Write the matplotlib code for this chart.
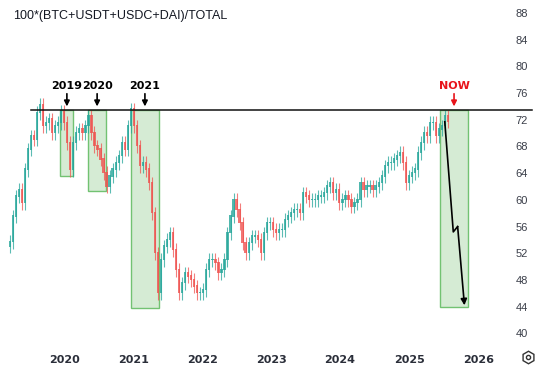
import matplotlib
matplotlib.use("Agg")
import matplotlib.pyplot as plt
import matplotlib.dates as mdates
from matplotlib.patches import Rectangle
from matplotlib.lines import Line2D
import numpy as np
import pandas as pd

plt.rcParams['font.family'] = ['Liberation Sans', 'DejaVu Sans']

title = "100*(BTC+USDT+USDC+DAI)/TOTAL"
start_date = "2019-03-20"
period = "16D"
closes = [
    53.7, 57.5, 60.5, 61.5, 59.5, 64.5, 67.5, 69.5, 69.0, 73.0,
    74.2, 71.0, 71.5, 72.0, 70.0, 71.0, 71.5, 73.2, 71.5, 68.5,
    64.5, 68.5, 70.0, 70.5, 70.0, 71.0, 72.5, 70.0, 68.0, 67.5,
    66.0, 64.0, 62.0, 63.5, 64.5, 65.5, 66.5, 68.5, 67.5, 71.0,
    73.5, 71.0, 68.0, 65.0, 65.5, 64.5, 62.5, 58.0, 52.0, 46.0,
    51.0, 53.0, 54.0, 55.0, 52.5, 49.5, 46.0, 47.5, 49.0, 48.5,
    48.0, 47.0, 46.0, 46.0, 46.5, 49.5, 51.0, 51.0, 50.5, 49.0,
    49.5, 51.0, 55.0, 57.5, 60.0, 58.5, 56.5, 53.5, 52.0, 53.5,
    54.5, 54.5, 54.0, 52.0, 55.0, 56.5, 56.5, 55.5, 55.0, 55.5,
    55.5, 57.0, 57.5, 58.0, 58.5, 58.5, 58.0, 61.0, 60.5, 60.0,
    60.0, 60.0, 60.5, 60.5, 61.0, 62.0, 62.5, 61.0, 61.5, 59.5,
    60.0, 60.5, 60.0, 59.0, 59.5, 60.0, 62.5, 61.5, 62.0, 62.0,
    61.5, 62.0, 62.5, 63.5, 65.0, 65.5, 65.5, 66.0, 66.5, 67.0,
    65.5, 62.5, 63.5, 64.0, 64.5, 67.0, 68.5, 70.0, 69.5, 71.5,
    71.5, 69.5, 70.5, 71.0, 72.5, 71.7,
]
first_open = 53.0
wick = 1.0

resistance = 73.5
resistance_start = "2019-07-08"

# highlighted cycle boxes: (start, end, low, high)
boxes = [
    ("2019-12-10", "2020-02-17", 63.6, 73.5),
    ("2020-05-08", "2020-08-10", 61.4, 73.5),
    ("2020-12-20", "2021-05-18", 43.8, 73.5),
    ("2025-06-13", "2025-11-10", 44.0, 73.5),
]

labels = ["2019", "2020", "2021", "NOW"]
label_dates = ["2020-01-16", "2020-06-24", "2021-03-04", "2025-08-26"]
label_colors = ["black", "black", "black", "#e8141b"]

proj_dates = ["2025-07-08", "2025-08-22", "2025-09-14", "2025-10-20"]
proj_values = [71.7, 55.2, 56.0, 44.2]

year_ticks = [2020, 2021, 2022, 2023, 2024, 2025, 2026]
y_ticks = [40, 44, 48, 52, 56, 60, 64, 68, 72, 76, 80, 84, 88]

# ---------------------------------------------------------------
W, H = 541, 367
fig = plt.figure(figsize=(W / 100, H / 100), dpi=100)
ax = fig.add_axes([0.0, 1 - 348 / H, 506 / W, 348 / H])

dates = pd.date_range(start_date, periods=len(closes), freq=period)
x = mdates.date2num(dates)
c = np.array(closes)
o = np.concatenate([[first_open], c[:-1]])
hi = np.maximum(o, c) + wick
lo = np.minimum(o, c) - wick
up = c >= o
green, red = "#26a69a", "#ef5350"
cols = [green if u else red for u in up]
ax.vlines(x, lo, hi, colors=cols, linewidth=0.8, alpha=0.75, zorder=3)
bw = 12
ax.bar(x, np.abs(c - o) + 0.2, bottom=np.minimum(o, c), width=bw,
       color=cols, alpha=0.8, linewidth=0, zorder=3)

for s, e, b, t in boxes:
    x0 = mdates.date2num(pd.Timestamp(s))
    x1 = mdates.date2num(pd.Timestamp(e))
    ax.add_patch(Rectangle((x0, b), x1 - x0, t - b, facecolor="#d5ebd4",
                           edgecolor="#72c272", linewidth=1.0, zorder=2))

xr0 = mdates.date2num(pd.Timestamp(resistance_start))
xr1 = mdates.date2num(pd.Timestamp("2026-10-15"))
ax.plot([xr0, xr1], [resistance, resistance], color="#111111", lw=1.1,
        zorder=4, clip_on=False)

for lab, d, col in zip(labels, label_dates, label_colors):
    xd = mdates.date2num(pd.Timestamp(d))
    ax.annotate("", xy=(xd, 74.0), xytext=(xd, 75.9),
                arrowprops=dict(arrowstyle="-|>", color=col, lw=1.2,
                                mutation_scale=8, shrinkA=0, shrinkB=0),
                zorder=5)
    ax.text(xd, 77.0, lab, ha="center", va="center", fontsize=8,
            fontweight="bold", color=col, family="DejaVu Sans")

px = mdates.date2num(pd.to_datetime(proj_dates))
ax.plot(px[:-1], proj_values[:-1], color="black", lw=1.2, zorder=5)
ax.annotate("", xy=(px[-1], proj_values[-1]), xytext=(px[-2], proj_values[-2]),
            arrowprops=dict(arrowstyle="-|>", color="black", lw=1.2,
                            mutation_scale=9, shrinkA=0, shrinkB=0),
            zorder=5)

ax.set_xlim(mdates.date2num(pd.Timestamp("2019-01-27")),
            mdates.date2num(pd.Timestamp("2026-05-28")))
ax.set_ylim(37.8, 89.95)
ax.set_xticks([mdates.date2num(pd.Timestamp(f"{y}-01-01")) for y in year_ticks])
ax.set_xticklabels([str(y) for y in year_ticks], fontsize=8, fontweight="bold",
                   color="#2a2e39", family="DejaVu Sans")
ax.yaxis.tick_right()
ax.set_yticks(y_ticks)
ax.set_yticklabels([str(v) for v in y_ticks], fontsize=8, color="#3a3e49")
ax.tick_params(axis="x", length=0, pad=5)
ax.tick_params(axis="y", length=0, pad=7)
for sp in ax.spines.values():
    sp.set_visible(False)

fig.text(13 / W, 1 - 16 / H, title, fontsize=9, color="#131722",
         va="center", ha="left")
fig.add_artist(Line2D([528 / W], [1 - 357 / H], marker="h", markersize=9,
                      markerfacecolor="white", markeredgecolor="#333333",
                      markeredgewidth=1.0, transform=fig.transFigure))
fig.add_artist(Line2D([528 / W], [1 - 357 / H], marker="o", markersize=3,
                      markerfacecolor="white", markeredgecolor="#333333",
                      markeredgewidth=1.0, transform=fig.transFigure))

fig.savefig("out.png", dpi=100)
